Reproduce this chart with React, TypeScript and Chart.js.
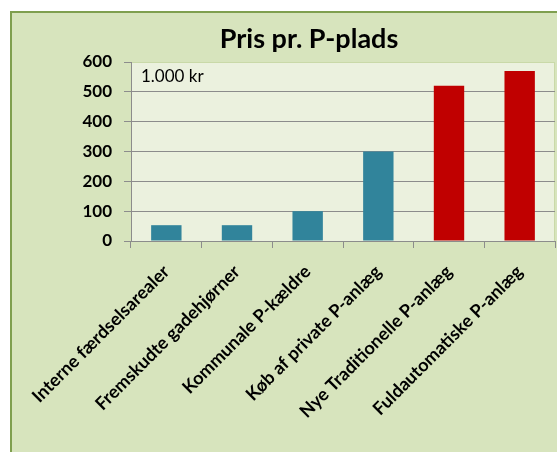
import React, { useEffect, useRef } from "react";
import { Chart, registerables } from "chart.js";

Chart.register(...registerables);

const categories = [
  "Interne færdselsarealer",
  "Fremskudte gadehjørner",
  "Kommunale P-kældre",
  "Køb af private P-anlæg",
  "Nye Traditionelle P-anlæg",
  "Fuldautomatiske P-anlæg",
];
const prices = [53, 53, 100, 300, 520, 570];
const barColors = ["#31849B", "#31849B", "#31849B", "#31849B", "#C00000", "#C00000"];
const yTicks = [0, 100, 200, 300, 400, 500, 600];
const titleText = "Pris pr. P-plads";
const unitText = "1.000 kr";

const FONT = "Lato, 'Open Sans', sans-serif";

const framePlugin = {
  id: "frame",
  beforeDraw(chart: any) {
    const { ctx, chartArea } = chart;
    ctx.save();
    ctx.fillStyle = "#FFFFFF";
    ctx.fillRect(0, 0, chart.width, chart.height);
    ctx.fillStyle = "#D7E4BD";
    ctx.fillRect(11, 12, chart.width - 11, chart.height - 12);
    ctx.strokeStyle = "#7F9F4F";
    ctx.lineWidth = 2;
    ctx.beginPath();
    ctx.moveTo(11, chart.height);
    ctx.lineTo(11, 12);
    ctx.lineTo(chart.width, 12);
    ctx.stroke();
    ctx.fillStyle = "#EBF1DE";
    ctx.fillRect(chartArea.left, chartArea.top, chartArea.right - chartArea.left, chartArea.bottom - chartArea.top);
    ctx.strokeStyle = "#C9D9A8";
    ctx.lineWidth = 1;
    ctx.strokeRect(chartArea.left + 0.5, chartArea.top + 0.5, chartArea.right - chartArea.left - 1, chartArea.bottom - chartArea.top);
    ctx.restore();
  },
  afterDraw(chart: any) {
    const { ctx, chartArea } = chart;
    ctx.save();
    ctx.fillStyle = "#000000";
    ctx.textBaseline = "middle";
    ctx.textAlign = "center";
    ctx.font = `bold 27px ${FONT}`;
    ctx.fillText(titleText, 309, 39);
    ctx.textAlign = "left";
    ctx.font = `17px ${FONT}`;
    ctx.fillText(unitText, chartArea.left + 10, chartArea.top + 15);
    ctx.restore();
  },
};

export default function App() {
  const ref = useRef<HTMLCanvasElement | null>(null);
  useEffect(() => {
    if (!ref.current) return;
    const chart = new Chart(ref.current, {
      type: "bar",
      data: {
        labels: categories,
        datasets: [
          {
            data: prices,
            backgroundColor: barColors,
            borderWidth: 0,
            categoryPercentage: 1,
            barPercentage: 0.43,
          },
        ],
      },
      options: {
        animation: false,
        responsive: false,
        maintainAspectRatio: false,
        layout: { padding: { left: 0, top: 62, right: 2, bottom: 0 } },
        plugins: { legend: { display: false }, title: { display: false }, tooltip: { enabled: false } },
        scales: {
          x: {
            grid: {
              offset: true,
              drawOnChartArea: false,
              drawTicks: true,
              tickLength: 7,
              tickColor: "#8C8C8C",
            },
            border: { display: true, color: "#8C8C8C", width: 1 },
            ticks: {
              minRotation: 45,
              maxRotation: 45,
              autoSkip: false,
              padding: 13,
              color: "#000000",
              font: { family: FONT, size: 18, weight: "bold" },
            },
            afterFit(scale: any) {
              scale.height = 211;
              scale.paddingLeft = 0;
              scale.paddingRight = 0;
            },
          },
          y: {
            min: yTicks[0],
            max: yTicks[yTicks.length - 1],
            afterBuildTicks(scale: any) {
              scale.ticks = yTicks.map((v) => ({ value: v }));
            },
            grid: {
              color: (c: any) => (c.tick && (c.tick.value === 0 || c.tick.value === 600) ? "rgba(0,0,0,0)" : "#8C8C8C"),
              tickColor: "#8C8C8C",
              tickLength: 7,
              lineWidth: 1,
            },
            border: { display: true, color: "#8C8C8C", width: 1 },
            ticks: {
              padding: 12,
              color: "#000000",
              font: { family: FONT, size: 17, weight: "bold" },
            },
            afterFit(scale: any) {
              scale.width = 131;
              scale.paddingTop = 0;
              scale.paddingBottom = 0;
            },
          },
        },
      },
      plugins: [framePlugin],
    });
    return () => chart.destroy();
  }, []);
  return (
    <div style={{ position: "fixed", left: 0, top: 0, width: 557, height: 452 }}>
      <canvas ref={ref} width={557} height={452} style={{ width: 557, height: 452, display: "block" }} />
    </div>
  );
}
